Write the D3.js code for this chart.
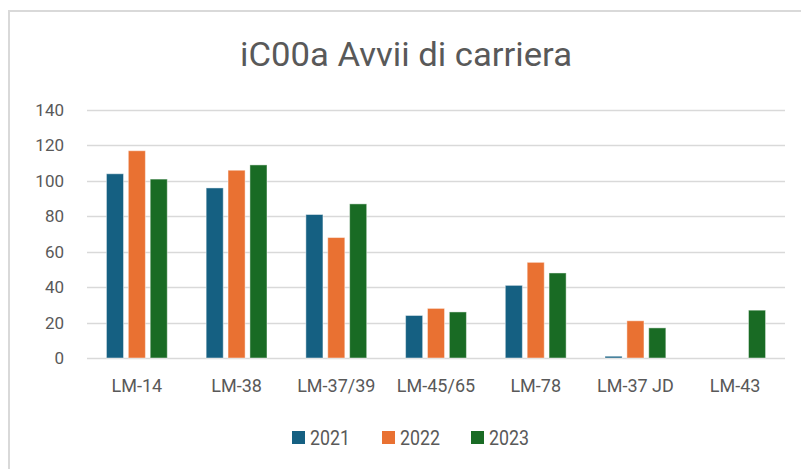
<!DOCTYPE html>
<html>
<head>
<meta charset="utf-8">
<script src="https://cdn.jsdelivr.net/npm/d3@7"></script>
<style>
  body { margin: 0; background: #fff; }
  svg text { font-family: Roboto, "Liberation Sans", sans-serif; fill: #595959; }
</style>
</head>
<body>
<div id="chart"></div>
<script>
  var categories = ['LM-14', 'LM-38', 'LM-37/39', 'LM-45/65', 'LM-78', 'LM-37 JD', 'LM-43'];
  var years = ['2021', '2022', '2023'];
  var values2021 = [104, 96, 81, 24, 41, 1, 0];
  var values2022 = [117, 106, 68, 28, 54, 21, 0];
  var values2023 = [101, 109, 87, 26, 48, 17, 27];
  var yTicks = [0, 20, 40, 60, 80, 100, 120, 140];
  var colors = ['#156082', '#E97132', '#196B24'];

  var seriesValues = [values2021, values2022, values2023];
  var rows = categories.map(function(c, i){
    return {name: c, vals: years.map(function(y, j){ return {year: y, v: seriesValues[j][i], k: j}; })};
  });

  var W = 801, H = 469;
  var plot = {left: 87, right: 785, top: 110, bottom: 358};

  var svg = d3.select('#chart').append('svg')
      .attr('width', W).attr('height', H);

  // chart border (right and bottom edges fall outside the picture)
  svg.append('rect')
      .attr('x', 9).attr('y', 11)
      .attr('width', 820).attr('height', 480)
      .attr('fill', '#fff').attr('stroke', '#d9d9d9').attr('stroke-width', 2);

  svg.append('text')
      .attr('x', 406).attr('y', 66)
      .attr('text-anchor', 'middle')
      .attr('textLength', 332).attr('lengthAdjust', 'spacingAndGlyphs')
      .style('font-size', '34px')
      .text('iC00a Avvii di carriera');

  var x0 = d3.scaleBand().domain(categories)
      .range([plot.left, plot.right])
      .paddingInner(0.39).paddingOuter(0.195);
  var x1 = d3.scaleBand().domain(years)
      .range([0, x0.bandwidth()])
      .paddingInner(0.22);
  var y = d3.scaleLinear().domain([0, 140]).range([plot.bottom, plot.top]);

  // gridlines
  svg.append('g').selectAll('line')
      .data(yTicks).enter().append('line')
      .attr('x1', plot.left).attr('x2', plot.right)
      .attr('y1', function(d){ return Math.round(y(d)) + 0.5; })
      .attr('y2', function(d){ return Math.round(y(d)) + 0.5; })
      .attr('stroke', '#d9d9d9').attr('stroke-width', 1.5);

  // y axis labels
  var yAxis = d3.axisLeft(y).tickValues(yTicks).tickSize(0).tickPadding(23);
  var gy = svg.append('g').attr('transform', 'translate(' + plot.left + ',0)').call(yAxis);
  gy.select('.domain').remove();
  gy.selectAll('text').style('font-size', '17px').style('font-family', null).attr('fill', '#595959');

  // bars
  var groups = svg.append('g').selectAll('g')
      .data(rows).enter().append('g')
      .attr('transform', function(d){ return 'translate(' + x0(d.name) + ',0)'; });

  groups.selectAll('rect')
      .data(function(d){ return d.vals.filter(function(v){ return v.v > 0; }); })
      .enter().append('rect')
      .attr('x', function(d){ return x1(d.year); })
      .attr('y', function(d){ return y(d.v); })
      .attr('width', x1.bandwidth())
      .attr('height', function(d){ return y(0) - y(d.v); })
      .attr('fill', function(d){ return colors[d.k]; })
      .attr('stroke', 'rgba(255,255,255,0.45)')
      .attr('stroke-width', 1);

  // x axis labels
  var xAxis = d3.axisBottom(x0).tickSize(0).tickPadding(21);
  var gx = svg.append('g').attr('transform', 'translate(0,' + plot.bottom + ')').call(xAxis);
  gx.select('.domain').remove();
  gx.selectAll('text').style('font-size', '18px').style('font-family', null).attr('fill', '#595959');

  // legend
  var legendX = [292, 382, 471];
  var legend = svg.append('g').selectAll('g')
      .data(years).enter().append('g')
      .attr('transform', function(d, i){ return 'translate(' + legendX[i] + ',431)'; });
  legend.append('rect')
      .attr('width', 13).attr('height', 13)
      .attr('fill', function(d, i){ return colors[i]; });
  legend.append('text')
      .attr('x', 18).attr('y', 13.5)
      .attr('textLength', 40).attr('lengthAdjust', 'spacingAndGlyphs')
      .style('font-size', '21px')
      .text(function(d){ return d; });
</script>
</body>
</html>
